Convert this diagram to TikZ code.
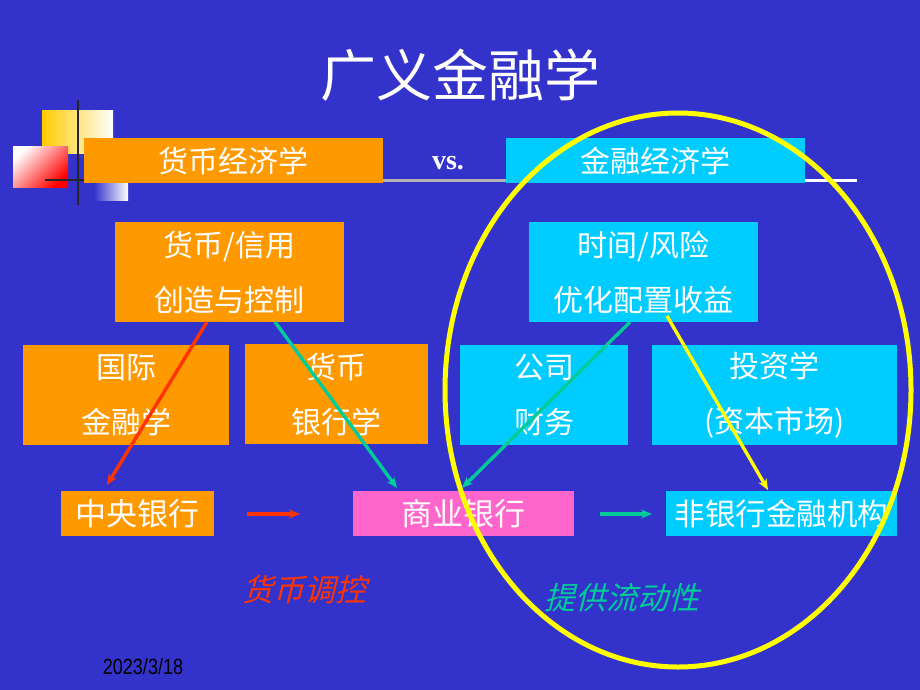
\documentclass[tikz,border=0pt]{standalone}
\usepackage{fontspec}
\setmainfont{Liberation Serif}
\newfontfamily\cjk{Noto Sans CJK SC}
\newfontfamily\datefont{Liberation Sans}
\usetikzlibrary{arrows.meta}
\definecolor{slidebg}{RGB}{51,51,204}
\definecolor{boxorange}{RGB}{255,153,0}
\definecolor{boxcyan}{RGB}{0,204,255}
\definecolor{boxpink}{RGB}{255,102,204}
\definecolor{arrred}{RGB}{255,51,0}
\definecolor{arrteal}{RGB}{0,204,153}
\definecolor{ringyellow}{RGB}{255,255,0}
\definecolor{decoyellow}{RGB}{255,204,0}
\tikzset{
    box/.style={inner sep=0pt, anchor=north west, text=white, font=\cjk\fontsize{30}{55}\selectfont, align=center},
    link/.style={line width=3.4pt, -{Stealth[length=11pt,width=9pt]}},
    slanted/.style={xslant=0.25, transform shape, font=\cjk\fontsize{31}{34}\selectfont}
}
\begin{document}
\begin{tikzpicture}[x=1pt, y=-1pt]
                \fill[slidebg] (0,0) rectangle (920,690);
                \useasboundingbox (0,0) rectangle (920,690);

                \node[text=white, font=\cjk\fontsize{56}{60}\selectfont] (title) at (460,75) {广义金融学};

                % corner decoration
                \shade[left color=decoyellow, right color=white] (42,111) rectangle (113,153);
                \shade[left color=white, right color=red, shading angle=45] (13,146) rectangle (68,187);
                \shade[left color=slidebg, right color=white] (94,183) rectangle (128,200);
                \draw[line width=2.5pt, black!85] (78,100) -- (78,205);
                \draw[line width=2.5pt, black!85] (45,180) -- (84,180);

                % header
                \draw[line width=3pt, gray!60] (383,180) -- (506,180);
                \draw[line width=3pt, white] (805,180) -- (857,180);
                \node[box, fill=boxorange, minimum width=299pt, minimum height=45pt] (money) at (84,138) {货币经济学};
                \node[box, fill=boxcyan, minimum width=299pt, minimum height=45pt] (finance) at (506,138) {金融经济学};
                \node[text=white, font=\bfseries\fontsize{28}{30}\selectfont] (vs) at (448,163) {vs.};

                % subjects
                \node[box, fill=boxorange, minimum width=229pt, minimum height=100pt] (credit) at (115,222) {货币/信用\\创造与控制};
                \node[box, fill=boxorange, minimum width=206pt, minimum height=100pt] (intl) at (23,345) {国际\\金融学};
                \node[box, fill=boxorange, minimum width=183pt, minimum height=100pt] (banking) at (245,344) {货币\\银行学};
                \node[box, fill=boxcyan, minimum width=229pt, minimum height=100pt] (risk) at (529,222) {时间/风险\\优化配置收益};
                \node[box, fill=boxcyan, minimum width=168pt, minimum height=100pt] (corp) at (460,345) {公司\\财务};
                \node[box, fill=boxcyan, minimum width=245pt, minimum height=100pt] (invest) at (652,345) {投资学\\(资本市场)};

                % institutions
                \node[box, fill=boxorange, minimum width=153pt, minimum height=45pt, font=\cjk\fontsize{31}{34}\selectfont] (central) at (61,491) {中央银行};
                \node[box, fill=boxpink, minimum width=221pt, minimum height=45pt, font=\cjk\fontsize{31}{34}\selectfont] (commercial) at (353,491) {商业银行};
                \node[box, fill=boxcyan, minimum width=231pt, minimum height=45pt, font=\cjk\fontsize{30.5}{34}\selectfont] (nonbank) at (666,491) {非银行金融机构};

                \coordinate (c1) at (207,322);
                \coordinate (c2) at (275,322);
                \coordinate (r1) at (630,322);
                \coordinate (r2) at (667,316);
                \coordinate (e1) at (107,485);
                \coordinate (e2) at (397,488);
                \coordinate (e3) at (462,488);
                \coordinate (e4) at (768,490);
                \draw[link, arrred] (c1) -- (e1);
                \draw[link, arrteal] (c2) -- (e2);
                \draw[link, arrteal] (r1) -- (e3);
                \draw[link, ringyellow] (r2) -- (e4);

                \coordinate (a1) at (247,514);
                \coordinate (a2) at (300,514);
                \coordinate (b1) at (600,514);
                \coordinate (b2) at (652,514);
                \draw[link, arrred] (a1) -- (a2);
                \draw[link, arrteal] (b1) -- (b2);

                \node[slanted, text=arrred] (control) at (307,590) {货币调控};
                \node[slanted, text=arrteal] (liquid) at (625,598) {提供流动性};

                \draw[ringyellow, line width=5pt] (678,390) ellipse [x radius=233pt, y radius=277pt];

                \node[font=\datefont\fontsize{22}{24}\selectfont, text=black, xscale=0.82, transform shape] (date) at (143,667) {2023/3/18};
            \end{tikzpicture}
\end{document}
